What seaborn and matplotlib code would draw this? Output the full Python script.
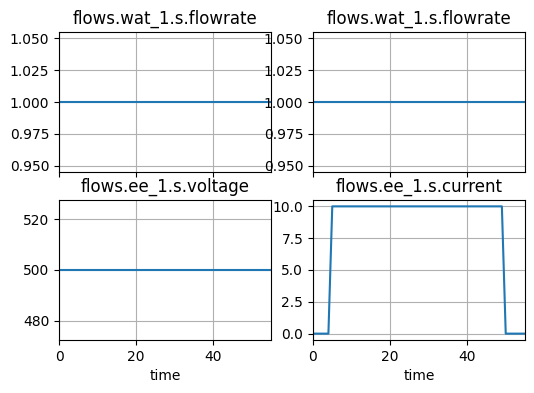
import matplotlib
matplotlib.use("Agg")
import matplotlib.pyplot as plt
import seaborn as sns
import pandas as pd

time = [0, 1, 2, 3, 4, 5, 6, 7, 8, 9, 10, 11, 12, 13, 14, 15, 16, 17, 18, 19,
        20, 21, 22, 23, 24, 25, 26, 27, 28, 29, 30, 31, 32, 33, 34, 35, 36, 37,
        38, 39, 40, 41, 42, 43, 44, 45, 46, 47, 48, 49, 50, 51, 52, 53, 54, 55]
flowrate = [1.0] * len(time)
voltage = [500.0] * len(time)
current = [0, 0, 0, 0, 0, 10, 10, 10, 10, 10, 10, 10, 10, 10, 10, 10, 10, 10,
           10, 10, 10, 10, 10, 10, 10, 10, 10, 10, 10, 10, 10, 10, 10, 10, 10,
           10, 10, 10, 10, 10, 10, 10, 10, 10, 10, 10, 10, 10, 10, 10, 0, 0, 0,
           0, 0, 0]

titles = ["flows.wat_1.s.flowrate", "flows.wat_1.s.flowrate",
          "flows.ee_1.s.voltage", "flows.ee_1.s.current"]

df = pd.DataFrame({"time": time, "flowrate": flowrate,
                   "voltage": voltage, "current": current})
cols = ["flowrate", "flowrate", "voltage", "current"]

fig, axes = plt.subplots(2, 2, figsize=(5.34, 3.93), dpi=100, sharex=True)
fig.subplots_adjust(left=59/534, right=525/534, top=1-32/393, bottom=1-340/393,
                    wspace=0.198, hspace=0.2)

for ax, col, title in zip(axes.flat, cols, titles):
    sns.lineplot(data=df, x="time", y=col, ax=ax, color="#1f77b4")
    ax.set_title(title, fontsize=12)
    ax.set_ylabel("")
    ax.grid(True)
    ax.set_xlim(0, 55)

for ax in axes[0]:
    ax.set_xlabel("")
for ax in axes[1]:
    ax.set_xlabel("time")

fig.savefig("out.png", dpi=100)
